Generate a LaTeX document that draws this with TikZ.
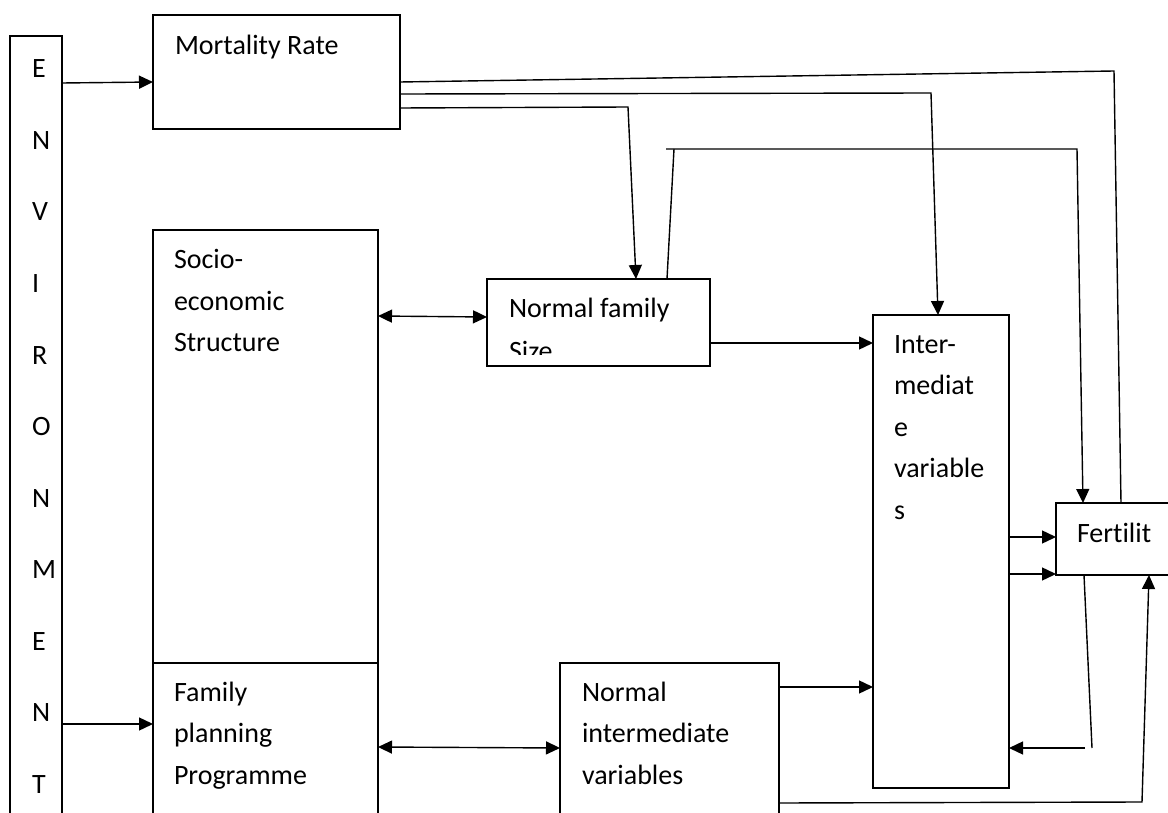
\documentclass[tikz,border=0pt]{standalone}
\usepackage{fontspec}
\setmainfont{Carlito}[Ligatures=NoCommon]
\usetikzlibrary{arrows.meta}

\begin{document}
\begin{tikzpicture}[x=1pt, y=-1pt,
  box/.style={draw, line width=1.5pt, inner sep=0pt, outer sep=0pt, anchor=north west},
  lbl/.style={anchor=base west, inner sep=0pt, outer sep=0pt,
              font=\fontsize{28}{34}\selectfont},
  ln/.style={line width=1.4pt},
  arr/.style={ln, -{Triangle[length=14pt,width=13pt]}},
  dbl/.style={ln, {Triangle[length=14pt,width=13pt]}-{Triangle[length=14pt,width=13pt]}}]

% page frame
\clip (0,0) rectangle (1168,813);
\fill[white] (0,0) rectangle (1168,813);

% boxes
\node[box, minimum width=52pt,  minimum height=794pt] (env) at (10,36)   {};
\node[box, minimum width=247pt, minimum height=114pt] (mr)  at (153,15)  {};
\node[box, minimum width=225pt, minimum height=433pt] (se)  at (153,230) {};
\node[box, minimum width=225pt, minimum height=167pt] (fp)  at (153,663) {};
\node[box, minimum width=223pt, minimum height=87pt]  (nfs) at (487,279) {};
\node[box, minimum width=136pt, minimum height=473pt] (iv)  at (873,315) {};
\node[box, minimum width=119pt, minimum height=72pt]  (fer) at (1056,503) {};
\node[box, minimum width=219pt, minimum height=167pt] (niv) at (560,663) {};

% labels
\foreach \c [count=\i from 0] in {E,N,V,I,R,O,N,M,E,N,T}
  \node[lbl] (env-\i) at (32, 78+71.5*\i) {\c};
\node[lbl] (mr-t) at (175,55) {Mortality Rate};
\foreach \t [count=\i from 0] in {Socio-, economic, Structure}
  \node[lbl] (se-\i) at (174, 269+41.5*\i) {\t};
\foreach \t [count=\i from 0] in {Family, planning, Programme}
  \node[lbl] (fp-\i) at (174, 701+41.5*\i) {\t};
\node[lbl] (nfs-0) at (509,317) {Normal family};
% second line of this box is cut off by the box's lower part
\begin{scope}
  \clip (487,279) rectangle (710,354);
  \node[lbl] (nfs-1) at (509,360) {Size};
\end{scope}
\foreach \t [count=\i from 0] in {Inter-, mediat, e, variable, s}
  \node[lbl] (iv-\i) at (894, 353+41.5*\i) {\t};
\node[lbl] (fer-t) at (1077,542) {Fertilit};
\foreach \t [count=\i from 0] in {Normal, intermediate, variables}
  \node[lbl] (niv-\i) at (582, 701+41.5*\i) {\t};

% bend points and free ends
\coordinate (b-top)  at (1114,71);
\coordinate (b-iv)   at (931,93);
\coordinate (b-nfs)  at (628,107);
\coordinate (b-up)   at (674,149);
\coordinate (b-fs)   at (666,149);
\coordinate (b-fr)   at (1077,149);
\coordinate (b-fd)   at (1092,748);
\coordinate (b-fb)   at (1085,748);
\coordinate (b-low)  at (1142,802);

% connectors
\draw[arr] ([yshift=-47pt]env.north east) -- ([yshift=-67pt]mr.north west);
\draw[arr] ([yshift=-688pt]env.north east) -- ([yshift=-61pt]fp.north west);

\draw[ln]  ([yshift=-67pt]mr.north east) -- (b-top) -- ([xshift=65pt]fer.north west);
\draw[arr] ([yshift=-79pt]mr.north east) -- (b-iv) -- ([xshift=65pt]iv.north west);
\draw[arr] ([yshift=-93pt]mr.north east) -- (b-nfs) -- ([xshift=149pt]nfs.north west);

\draw[ln]  ([xshift=180pt]nfs.north west) -- (b-up);
\draw[arr] (b-fs) -- (b-fr) -- ([xshift=27pt]fer.north west);

\draw[dbl] ([yshift=-86pt]se.north east) -- ([yshift=-38pt]nfs.north west);
\draw[arr] ([yshift=-64pt]nfs.north east) -- ([yshift=-28pt]iv.north west);

\draw[arr] ([yshift=-222pt]iv.north east) -- ([yshift=-34pt]fer.north west);
\draw[arr] ([yshift=-259pt]iv.north east) -- ([yshift=-71pt]fer.north west);

\draw[ln]  ([xshift=28pt]fer.south west) -- (b-fd);
\draw[arr] (b-fb) -- ([yshift=40pt]iv.south east);

\draw[arr] ([yshift=-140pt]niv.north east) -- (b-low) -- ([xshift=93pt]fer.south west);

\draw[dbl] ([yshift=-84pt]fp.north east) -- ([yshift=-85pt]niv.north west);
\draw[arr] ([yshift=-24pt]niv.north east) -- ([yshift=-372pt]iv.north west);
\end{tikzpicture}
\end{document}
